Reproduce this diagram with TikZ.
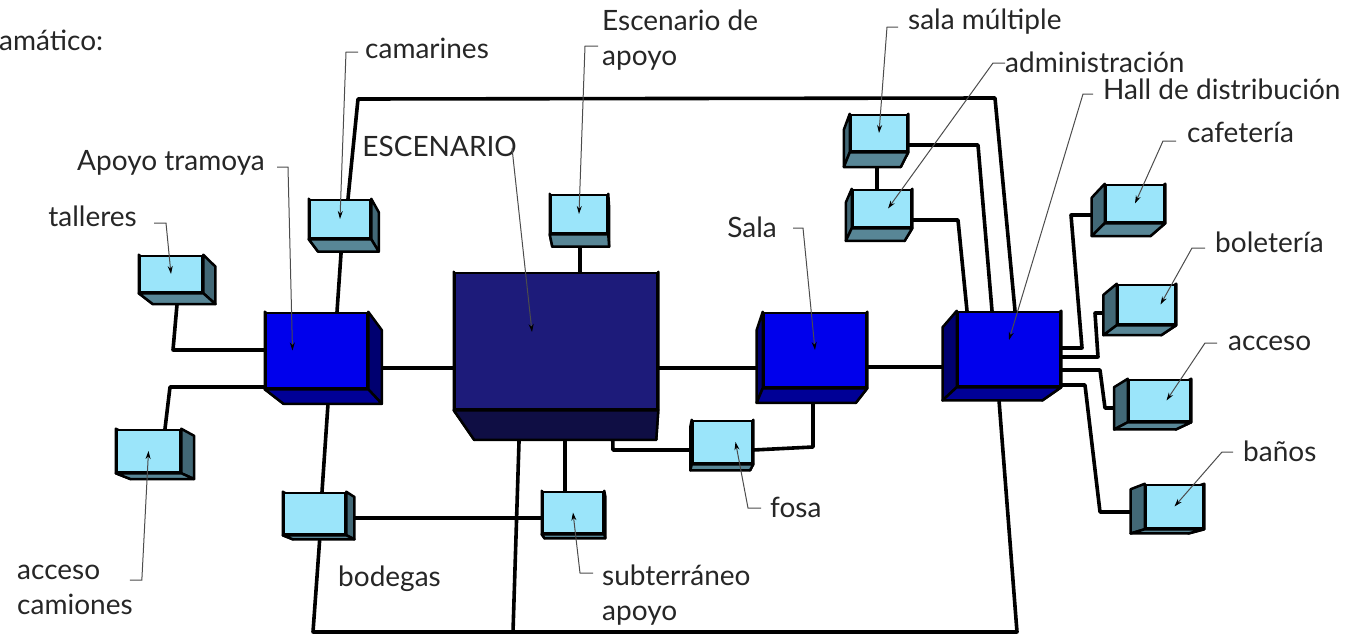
\documentclass[tikz,border=0pt]{standalone}
\usepackage{fontspec}
\setmainfont{Lato}
\usetikzlibrary{calc,fit,arrows.meta}

\definecolor{claro}{RGB}{155,229,250}
\definecolor{clarolado}{RGB}{66,104,118}
\definecolor{clarobase}{RGB}{88,134,150}
\definecolor{azul}{RGB}{0,0,236}
\definecolor{azullado}{RGB}{0,0,112}
\definecolor{azulbase}{RGB}{0,0,150}
\definecolor{navy}{RGB}{29,27,122}
\definecolor{navylado}{RGB}{20,19,90}
\definecolor{navybase}{RGB}{15,14,68}

\pgfdeclarelayer{fondo}
\pgfdeclarelayer{caras}
\pgfsetlayers{fondo,caras,main}

% caja en perspectiva: nombre, x1, y1, x2, y2, profundidad, tipo
\newcommand\caja[7]{%
  \node[#7, fit={(#2,#3) (#4,#5)}] (#1) {};
  \begin{pgfonlayer}{caras}
    \coordinate (#1-A) at ($(#1.north west)!#6!(fuga)$);
    \coordinate (#1-B) at ($(#1.north east)!#6!(fuga)$);
    \coordinate (#1-C) at ($(#1.south east)!#6!(fuga)$);
    \coordinate (#1-D) at ($(#1.south west)!#6!(fuga)$);
    \filldraw[#7 lado] (#1.north west) -- (#1-A) -- (#1-D) -- (#1.south west) -- cycle;
    \filldraw[#7 lado] (#1.north east) -- (#1-B) -- (#1-C) -- (#1.south east) -- cycle;
    \filldraw[#7 base] (#1.south west) -- (#1.south east) -- (#1-C) -- (#1-D) -- cycle;
  \end{pgfonlayer}}

\begin{document}
\begin{tikzpicture}[
  x=1pt, y=-1pt,
  borde/.style={draw=black, line width=2.5pt, line join=round},
  clara/.style={borde, fill=claro, inner sep=0pt},
  clara lado/.style={borde, fill=clarolado},
  clara base/.style={borde, fill=clarobase},
  azulbox/.style={borde, fill=azul, inner sep=0pt},
  azulbox lado/.style={borde, fill=azullado},
  azulbox base/.style={borde, fill=azulbase},
  grande/.style={borde, fill=navy, inner sep=0pt},
  grande lado/.style={borde, fill=navylado},
  grande base/.style={borde, fill=navybase},
  conn/.style={draw=black, line width=3.6pt, line join=round, line cap=round},
  lbl/.style={font=\fontsize{28}{35}\selectfont, text=black!85, inner sep=0pt, align=left},
  lead/.style={draw=gray!60!black, line width=1pt, -{Stealth[length=8pt,width=5pt,black]}}
]
\useasboundingbox (0,0) rectangle (1353,637);
\coordinate (fuga) at (640,680);

% cajas
\caja{taller}{140}{256}{202}{292}{0.028}{clara}
\caja{camarin}{310}{200}{370}{238}{0.028}{clara}
\caja{camion}{117}{430}{180}{472}{0.028}{clara}
\caja{bodega}{284}{493}{345}{534}{0.028}{clara}
\caja{apoyotr}{266}{313}{367}{388}{0.05}{azulbox}
\caja{escapoyo}{551}{195}{607}{233}{0.028}{clara}
\caja{escena}{455}{273}{657}{409}{0.11}{grande}
\caja{subte}{543}{492}{603}{533}{0.028}{clara}
\caja{fosa}{693}{421}{752}{463}{0.028}{clara}
\caja{sala}{764}{313}{866}{387}{0.05}{azulbox}
\caja{multi}{851}{115}{907}{151}{0.028}{clara}
\caja{admin}{853}{190}{911}{227}{0.028}{clara}
\caja{hall}{958}{312}{1060}{386}{0.045}{azulbox}
\caja{cafe}{1106}{185}{1164}{222}{0.028}{clara}
\caja{boleto}{1118}{285}{1175}{324}{0.028}{clara}
\caja{acceso}{1129}{380}{1190}{421}{0.028}{clara}
\caja{banos}{1146}{485}{1203}{528}{0.028}{clara}

% conexiones
\begin{pgfonlayer}{fondo}
\coordinate (baseE) at (513,632);
\draw[conn] (taller.south -| 178,0) -- (173,350) -- (apoyotr.west |- 0,350);
\draw[conn] (camion.north -| 165,0) -- (170,387) -- (apoyotr.west |- 0,387);
\draw[conn] (camarin.south -| 342,0) -- (apoyotr.north -| 337,0);
\draw[conn] (apoyotr.south -| 329,0) -- (bodega.north -| 322,0);
\draw[conn] (bodega.south -| 320,0) -- (313,632) -- (1017,632) -- (hall.south -| 998,0);
\draw[conn] (escena.south -| 520,0) -- (baseE);
\draw[conn] (bodega.east |- 0,518) -- (subte.west |- 0,518);
\draw[conn] (apoyotr.east |- 0,368) -- (escena.west |- 0,368);
\draw[conn] (escapoyo.south -| 580,0) -- (escena.north -| 580,0);
\draw[conn] (escena.south -| 565,0) -- (subte.north -| 565,0);
\draw[conn] (escena.south -| 612,0) -- (613,450) -- (fosa.west |- 0,450);
\draw[conn] (fosa.east |- 0,450) -- (813,447) -- (sala.south -| 813,0);
\draw[conn] (escena.east |- 0,368) -- (sala.west |- 0,368);
\draw[conn] (sala.east |- 0,367) -- (hall.west |- 0,367);
\draw[conn] (camarin.north -| 348,0) -- (358,99) -- (995,98) -- (hall.north -| 1015,0);
\draw[conn] (multi.south -| 877,0) -- (admin.north -| 877,0);
\draw[conn] (multi.east |- 0,145) -- (978,145) -- (hall.north -| 992,0);
\draw[conn] (admin.east |- 0,220) -- (958,220) -- (hall.north -| 967,0);
\draw[conn] (cafe.west |- 0,215) -- (1071,215) -- (1082,348) -- (hall.east |- 0,348);
\draw[conn] (boleto.west |- 0,313) -- (1095,313) -- (1098,357) -- (hall.east |- 0,357);
\draw[conn] (hall.east |- 0,370) -- (1100,370) -- (1105,408) -- (acceso.west |- 0,408);
\draw[conn] (hall.east |- 0,385) -- (1085,385) -- (1100,512) -- (banos.west |- 0,512);
\end{pgfonlayer}

% textos
\node[lbl, anchor=base west] (lamat) at (-1,50) {amático:};
\node[lbl, anchor=base west] (lcam) at (365,58) {camarines};
\node[lbl, anchor=base west] (lescap) at (602,65) {Escenario de\\apoyo};
\node[lbl, anchor=base west] (lmulti) at (908,30) {sala múltiple};
\node[lbl, anchor=base west] (ladmin) at (1005,72) {administración};
\node[lbl, anchor=base west] (lhall) at (1103,99) {Hall de distribución};
\node[lbl, anchor=base west] (lcafe) at (1187,142) {cafetería};
\node[lbl, anchor=base west] (lbol) at (1215,252) {boletería};
\node[lbl, anchor=base west] (lacc) at (1228,350) {acceso};
\node[lbl, anchor=base west] (lban) at (1243,461) {baños};
\node[lbl, anchor=base east] (lsala) at (777,237) {Sala};
\node[lbl, anchor=base east] (lesc) at (517,156) {ESCENARIO};
\node[lbl, anchor=base east] (lapoyo) at (265,170) {Apoyo tramoya};
\node[lbl, anchor=base east] (ltall) at (137,226) {talleres};
\node[lbl, anchor=base west] (lcamion) at (17,614) {acceso\\camiones};
\node[lbl, anchor=base west] (lbod) at (338,586) {bodegas};
\node[lbl, anchor=base west] (lsubte) at (602,620) {subterráneo\\apoyo};
\node[lbl, anchor=base west] (lfosa) at (770,517) {fosa};

% flechas de referencia
\draw[lead] ([shift={(-7pt,6pt)}]lcam.base west) -- ++(-12,0) -- (camarin.center);
\draw[lead] ([shift={(-4pt,19pt)}]lescap.base west) -- ++(-13,0) -- (escapoyo.center);
\draw[lead] ([shift={(-10pt,3pt)}]lmulti.base west) -- ++(-11,0) -- (multi.center);
\draw[lead] ([shift={(0pt,9pt)}]ladmin.base west) -- ++(-12,0) -- ([xshift=6pt]admin.center);
\draw[lead] ([shift={(-10pt,5pt)}]lhall.base west) -- ++(-10,0) -- ([yshift=9pt]hall.center);
\draw[lead] ([shift={(-11pt,1pt)}]lcafe.base west) -- ++(-13,0) -- (cafe.center);
\draw[lead] ([shift={(-10pt,4pt)}]lbol.base west) -- ++(-13,0) -- ([xshift=14pt]boleto.center);
\draw[lead] ([shift={(-11pt,7pt)}]lacc.base west) -- ++(-12,0) -- ([xshift=7pt]acceso.center);
\draw[lead] ([shift={(-10pt,9pt)}]lban.base west) -- ++(-11,0) -- (banos.center);
\draw[lead] ([shift={(16pt,9pt)}]lsala.base east) -- ++(10,0) -- (sala.center);
\draw[lead] ([shift={(-5pt,8pt)}]lesc.base east) -- ([shift={(-24pt,9pt)}]escena.center);
\draw[lead] ([shift={(12pt,3pt)}]lapoyo.base east) -- ++(11,0) -- ([xshift=-24pt]apoyotr.center);
\draw[lead] ([shift={(17pt,3pt)}]ltall.base east) -- ++(12,0) -- (taller.center);
\draw[lead] ([shift={(-3pt,34pt)}]lcamion.base east) -- ++(12,0) -- (camion.center);
\draw[lead] ([shift={(-9pt,47pt)}]lsubte.base west) -- ++(-13,0) -- (subte.center);
\draw[lead] ([shift={(-9pt,9pt)}]lfosa.base west) -- ++(-13,0) -- ([xshift=13pt]fosa.center);
\end{tikzpicture}
\end{document}
